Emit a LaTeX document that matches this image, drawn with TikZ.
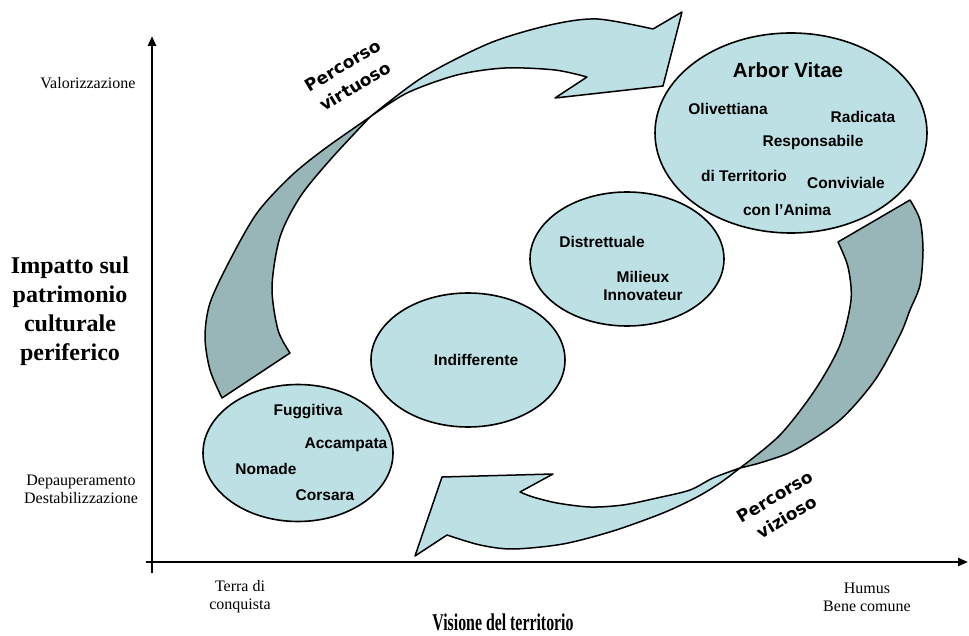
\documentclass[tikz,border=0pt]{standalone}
\usepackage{fontspec}
\setmainfont{Liberation Serif}
\setsansfont{Liberation Sans}
\newfontfamily\pathfont{DejaVu Sans}
\usepackage{tikz}
\usetikzlibrary{arrows.meta, shapes.geometric}
\definecolor{BlobFill}{HTML}{BDE0E4}
\definecolor{TwistFill}{HTML}{98B5B7}

\begin{document}
\begin{tikzpicture}[x=1pt, y=-1pt,
  blob/.style={ellipse, draw, line width=1.6pt, fill=BlobFill, inner sep=0pt},
  word/.style={font=\sffamily\bfseries\fontsize{15.5}{18}\selectfont},
  axislabel/.style={font=\fontsize{16}{18}\selectfont, align=center},
  axistitle/.style={font=\bfseries\fontsize{24}{29}\selectfont, align=center},
  axisline/.style={line width=2.6pt, -{Triangle[length=10pt, width=8pt]}},
  ribbon/.style={draw, line width=1.5pt, line join=round},
  pathlabel/.style={font=\pathfont\bfseries\fontsize{17}{24}\selectfont, align=center, rotate=31, inner sep=0pt}]
  \useasboundingbox (0,0) rectangle (969,636);

  % axes
  \coordinate (ybot) at (152,573);
  \coordinate (ytop) at (152,36);
  \coordinate (xleft) at (146,562);
  \coordinate (xright) at (968,562);
  \draw[axisline] (ybot) -- (ytop);
  \draw[axisline] (xleft) -- (xright);

  \node[axislabel, anchor=east] (valor) at (139,83) {Valorizzazione};
  \node[axislabel] (depau) at (81,489) {Depauperamento\\Destabilizzazione};
  \node[axistitle] (impatto) at (70,311) {Impatto sul\\patrimonio\\culturale\\periferico};
  \node[axislabel] (terra) at (240,597) {Terra di\\conquista};
  \node[axislabel] (humus) at (867,597) {Humus\\Bene comune};
  \node[axistitle] (visione) at (503,622) {\scalebox{0.66}[1]{Visione del territorio}};

  % percorso virtuoso
  \path[ribbon, fill=TwistFill] (370,117)
    -- plot[smooth] coordinates {(370,117) (323,150) (290,177) (257,213) (230,260) (210,303) (205,337) (210,370) (222,398)}
    -- (290,353)
    -- plot[smooth] coordinates {(290,353) (278,330) (272,287) (280,237) (300,197) (330,160) (370,117)}
    -- cycle;
  \path[ribbon, fill=BlobFill] (370,117)
    -- plot[smooth] coordinates {(370,117) (423,77) (490,43) (550,25) (597,19) (653,29)}
    -- (682,12) -- (663,86) -- (555,98) -- (587,77)
    -- plot[smooth] coordinates {(587,77) (555,70) (505,68) (457,75) (407,93) (370,117)}
    -- cycle;

  % percorso vizioso
  \path[ribbon, fill=TwistFill] (838,242) -- (910,200)
    -- plot[smooth] coordinates {(910,200) (920,220) (923,250) (920,285) (910,310) (900,335) (875,380) (840,420) (795,450) (763,462) (740,468)}
    -- plot[smooth] coordinates {(740,468) (780,435) (815,390) (840,345) (851,300) (848,267) (838,242)}
    -- cycle;
  \path[ribbon, fill=BlobFill] (740,468)
    -- plot[smooth] coordinates {(740,468) (713,478) (690,490) (657,498) (623,505) (590,507) (557,503) (533,497) (520,492)}
    -- (553,474) -- (442,477) -- (415,556) -- (447,535)
    -- plot[smooth] coordinates {(447,535) (480,545) (513,549) (563,544) (613,531) (663,513) (697,497) (720,483) (740,468)}
    -- cycle;

  \node[pathlabel] (virtuoso) at (349,76) {Percorso\\virtuoso};
  \node[pathlabel] (vizioso) at (781,507) {Percorso\\vizioso};

  % ellissi
  \node[blob, minimum width=272pt, minimum height=200pt] (arbor) at (791,133) {};
  \node[blob, minimum width=194pt, minimum height=134pt] (distr) at (627,259) {};
  \node[blob, minimum width=194pt, minimum height=134pt] (indiff) at (468,360) {};
  \node[blob, minimum width=190pt, minimum height=137pt] (fugg) at (298,453) {};

  \node[word, font=\sffamily\bfseries\fontsize{20.5}{22}\selectfont] (arbortitle) at (788,70) {Arbor Vitae};
  \node[word] (olivett) at (728,109) {Olivettiana};
  \node[word] (radic) at (863,117) {Radicata};
  \node[word] (respons) at (813,142) {Responsabile};
  \node[word] (territ) at (744,176) {di Territorio};
  \node[word] (convi) at (846,183) {Conviviale};
  \node[word] (anima) at (787,210) {con l’Anima};

  \node[word] (distrtxt) at (602,242) {Distrettuale};
  \node[word, align=center] (milieux) at (643,286) {Milieux\\Innovateur};

  \node[word] (indifftxt) at (476,360) {Indifferente};

  \node[word] (fuggtxt) at (308,412) {Fuggitiva};
  \node[word] (accamp) at (346,445) {Accampata};
  \node[word] (nomade) at (266,469) {Nomade};
  \node[word] (corsara) at (325,495) {Corsara};
\end{tikzpicture}
\end{document}
